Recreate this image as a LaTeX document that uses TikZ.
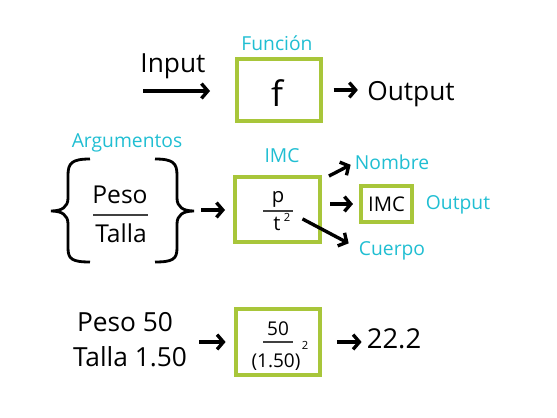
\documentclass[tikz,border=0pt]{standalone}
\usepackage{fontspec}
\setmainfont{Open Sans}
\usetikzlibrary{arrows.meta}
\definecolor{lima}{RGB}{168,198,58}
\definecolor{celeste}{RGB}{32,190,210}
\begin{document}
\begin{tikzpicture}[
    x=0.025cm, y=-0.025cm,
    every node/.style={inner sep=0pt, anchor=base},
    big/.style={font=\fontsize{18.7}{22}\selectfont},
    med/.style={font=\fontsize{17.5}{21}\selectfont},
    mid/.style={font=\fontsize{14.4}{17}\selectfont},
    small/.style={font=\fontsize{13.5}{16}\selectfont},
    tiny/.style={font=\fontsize{8}{9}\selectfont},
    tag/.style={text=celeste, font=\fontsize{13.7}{16}\selectfont},
    caja/.style={draw=lima, line width=2.8pt, anchor=center},
    arr/.style={line width=2.4pt, -{Straight Barb[length=4.5pt,width=10.5pt]}},
    raya/.style={line width=1pt, black!75},
    llave/.style={line width=2pt}]

  \useasboundingbox (0,0) rectangle (557,418);

  \node[big] (input) at (173,73) {Input};
  \coordinate (inA) at (143,91);
  \coordinate (inB) at (210,91);
  \draw[arr] (inA) -- (inB);
  \node[caja, minimum width=2.1cm, minimum height=1.55cm] (fbox) at (279,90) {};
  \node[font=\fontsize{25}{30}\selectfont] (f) at (277,107) {f};
  \node[tag] (funcion) at (277,51) {Función};
  \node[big] (output) at (411,101) {Output};
  \draw[arr, shorten <=7.5pt, shorten >=6.5pt] (fbox.east) -- (fbox.east -| output.west);

  \node[tag] (argum) at (127,148) {Argumentos};
  \node[med] (peso) at (120,204) {Peso};
  \node[med] (talla) at (121,243) {Talla};
  \draw[raya] (93,215) -- (148,215);
  \draw[llave] (90,159) .. controls (72,159) and (68,163) .. (68,175) -- (68,198)
    .. controls (68,207) and (62,211) .. (51,211) .. controls (62,211) and (68,215) .. (68,224)
    -- (68,248) .. controls (68,259) and (72,262) .. (90,262);
  \draw[llave] (155,159) .. controls (173,159) and (177,163) .. (177,175) -- (177,198)
    .. controls (177,207) and (183,211) .. (194,211) .. controls (183,211) and (177,215) .. (177,224)
    -- (177,248) .. controls (177,259) and (173,262) .. (155,262);
  \coordinate (rtip) at (194,210);

  \node[caja, minimum width=2.125cm, minimum height=1.625cm] (imcbox) at (277.5,209.5) {};
  \node[tag] (imclab) at (282,163) {IMC};
  \node[mid] (p) at (278,203) {p};
  \draw[raya] (263,211) -- (293,211);
  \node[mid] (t) at (277,231) {t};
  \node[tiny] (sq) at (287,222) {2};
  \node[tag] (nombre) at (392,170) {Nombre};
  \node[caja, mid, minimum width=1.275cm, minimum height=0.9cm] (outbox) at (386.5,204) {IMC};
  \node[tag] (outlab) at (458,210) {Output};
  \node[tag] (cuerpo) at (392,256) {Cuerpo};
  \draw[arr, shorten <=5pt, shorten >=5.7pt] (rtip) -- (rtip -| imcbox.west);
  \draw[arr] ([shift={(7,1)}]imcbox.north east) -- ([shift={(-4,2)}]nombre.west);
  \draw[arr, shorten <=5.7pt, shorten >=4.3pt] (imcbox.east |- outbox.west) -- (outbox.west);
  \draw[arr] ([shift={(12,1)}]sq.east) -- ([shift={(-10,-8)}]cuerpo.west);

  \node[big] (peso50) at (125,331) {Peso 50};
  \node[big] (talla150) at (130,366) {Talla 1.50};
  \node[caja, minimum width=2.1cm, minimum height=1.65cm] (calcbox) at (278,342) {};
  \node[small] (cincuenta) at (278,335) {50};
  \draw[raya] (263,342) -- (293,342);
  \node[small] (altura) at (276,367) {(1.50)};
  \node[tiny] (sq2) at (305,349) {2};
  \node[font=\fontsize{19.5}{23}\selectfont] (res) at (394,348) {22.2};
  \draw[arr, shorten <=8.5pt, shorten >=6pt] (calcbox.west -| talla150.east) -- (calcbox.west);
  \draw[arr, shorten <=10.6pt, shorten >=3.5pt] (calcbox.east) -- (calcbox.east -| res.west);
\end{tikzpicture}
\end{document}
